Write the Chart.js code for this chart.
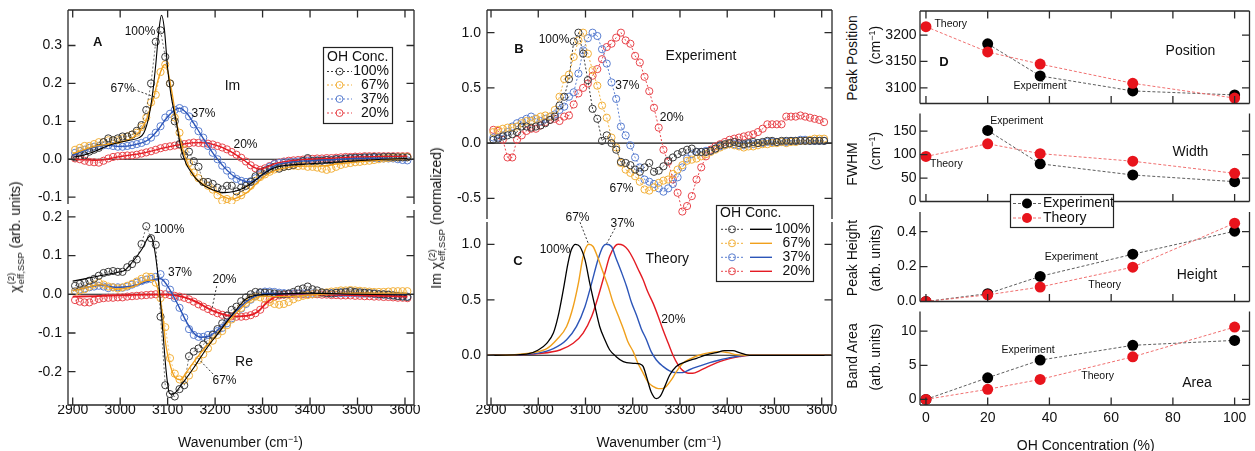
<!DOCTYPE html>
<html><head><meta charset="utf-8">
<script src="https://cdn.jsdelivr.net/npm/chart.js@4.4.1/dist/chart.umd.min.js"></script>
<style>
html,body{margin:0;padding:0;background:#fff;}
#wrap{position:relative;width:1255px;height:451px;overflow:hidden;font-family:"Liberation Sans",Arial,Helvetica,sans-serif;color:#111;}
#wrap canvas{position:absolute;}
.t{position:absolute;white-space:nowrap;font-size:14px;line-height:16px;transform:translate(-50%,-50%);}
.r{transform:translate(-50%,-50%) rotate(-90deg);}
sup{font-size:9px;vertical-align:5px;line-height:0;}
.ss{display:inline-flex;flex-direction:column;font-size:9.5px;line-height:10px;vertical-align:6px;margin-left:1px;}
</style></head>
<body><div id="wrap"></div>
<script>
// ================= DATA =================
const concLabels = ['100%','67%','37%','20%'];
const wavenumber = [
2905,2915,2925,2935,2945,2955,2965,2975,2985,2995,
3005,3015,3025,3035,3045,3055,3065,3075,3085,3095,
3105,3115,3125,3135,3145,3155,3165,3175,3185,3195,
3205,3215,3225,3235,3245,3255,3265,3275,3285,3295,
3305,3315,3325,3335,3345,3355,3365,3375,3385,3395,
3405,3415,3425,3435,3445,3455,3465,3475,3485,3495,
3505,3515,3525,3535,3545,3555,3565,3575,3585,3595,
3605];

// Panel A, Im part, measured points
const imData100 = [
0.005,0.008,0.01,0.02,0.025,0.03,0.045,0.055,0.05,0.055,
0.06,0.06,0.065,0.075,0.09,0.13,0.2,0.31,0.34,0.27,
0.2,0.1,0.04,0.01,0.02,-0.005,-0.02,-0.06,-0.06,-0.065,
-0.075,-0.08,-0.07,-0.07,-0.085,-0.075,-0.07,-0.06,-0.045,-0.035,
-0.03,-0.025,-0.02,-0.025,-0.02,-0.018,-0.015,-0.01,-0.005,0.003,
-0.005,-0.004,-0.004,-0.002,-0.003,0.0,0.0,0.002,0.003,0.004,
0.003,0.005,0.005,0.006,0.005,0.006,0.006,0.006,0.005,0.005,
0.005];
const imData67 = [
0.025,0.03,0.035,0.035,0.04,0.045,0.045,0.05,0.05,0.05,
0.055,0.06,0.065,0.07,0.085,0.11,0.15,0.17,0.23,0.25,
0.2,0.11,0.07,0.025,-0.01,-0.035,-0.05,-0.06,-0.07,-0.08,
-0.095,-0.11,-0.105,-0.11,-0.1,-0.095,-0.08,-0.07,-0.057,-0.047,
-0.04,-0.033,-0.027,-0.022,-0.02,-0.018,-0.017,-0.018,-0.017,-0.02,
-0.02,-0.022,-0.025,-0.028,-0.025,-0.02,-0.015,-0.012,-0.01,-0.008,
-0.007,-0.005,-0.004,-0.002,0.0,0.002,0.003,0.004,0.005,0.006,
0.006];
const imData37 = [
0.017,0.022,0.025,0.03,0.033,0.035,0.037,0.037,0.035,0.033,
0.033,0.035,0.037,0.04,0.043,0.048,0.057,0.07,0.087,0.11,
0.12,0.13,0.135,0.13,0.113,0.092,0.074,0.057,0.035,0.017,
0.0,-0.017,-0.03,-0.043,-0.052,-0.057,-0.06,-0.058,-0.05,-0.04,
-0.03,-0.02,-0.013,-0.01,-0.008,-0.008,-0.007,-0.006,-0.005,-0.004,
-0.004,-0.003,-0.003,-0.002,-0.002,0.0,0.0,0.001,0.002,0.002,
0.003,0.003,0.003,0.003,0.003,0.002,0.002,0.002,0.0,-0.002,
-0.003];
const imData20 = [
0.002,0.0,-0.004,-0.007,-0.008,-0.009,-0.004,0.002,0.006,0.008,
0.009,0.01,0.01,0.012,0.015,0.018,0.021,0.025,0.029,0.032,
0.034,0.036,0.038,0.04,0.042,0.044,0.043,0.042,0.041,0.039,
0.035,0.031,0.026,0.019,0.012,0.004,-0.006,-0.016,-0.024,-0.028,
-0.024,-0.018,-0.012,-0.009,-0.006,-0.004,-0.003,-0.002,-0.001,0.0,
0.001,0.002,0.002,0.003,0.003,0.004,0.005,0.006,0.006,0.007,
0.007,0.008,0.008,0.008,0.008,0.008,0.008,0.008,0.008,0.008,
0.008];
// Panel A, Im part, fitted curves
const imFitX100 = [2900,2920,2940,2960,2980,3000,3020,3040,3050,3060,3068,3075,3082,3087,3093,3100,3107,3118,3128,3139,3150,3160,3170,3180,3200,3220,3240,3260,3280,3300,3320,3340,3360,3400,3450,3500,3550,3605];
const imFit100 = [0.005,0.01,0.018,0.028,0.038,0.045,0.05,0.057,0.07,0.11,0.17,0.25,0.345,0.38,0.345,0.24,0.17,0.1,0.03,-0.012,-0.035,-0.052,-0.063,-0.072,-0.083,-0.088,-0.085,-0.076,-0.06,-0.04,-0.025,-0.018,-0.015,-0.012,-0.008,-0.004,0.0,0.002];
const imFitX67 = [2900,2950,3000,3030,3050,3060,3070,3080,3090,3095,3100,3110,3120,3130,3140,3150,3160,3180,3200,3220,3235,3250,3270,3290,3310,3340,3380,3420,3460,3500,3550,3605];
const imFit67 = [0.015,0.035,0.045,0.06,0.09,0.12,0.16,0.21,0.245,0.25,0.235,0.17,0.09,0.035,-0.005,-0.03,-0.05,-0.07,-0.085,-0.1,-0.105,-0.1,-0.085,-0.06,-0.04,-0.025,-0.018,-0.018,-0.012,-0.007,-0.002,0.002];
const imFitX37 = [2900,2940,2970,3000,3030,3060,3080,3100,3115,3125,3140,3160,3180,3200,3220,3240,3260,3275,3290,3310,3330,3360,3400,3450,3500,3550,3605];
const imFit37 = [0.01,0.03,0.037,0.034,0.038,0.052,0.078,0.112,0.13,0.135,0.122,0.085,0.045,0.008,-0.022,-0.045,-0.057,-0.06,-0.05,-0.03,-0.015,-0.008,-0.004,-0.001,0.002,0.003,0.002];
const imFitX20 = [2900,2950,3000,3050,3100,3150,3170,3200,3230,3260,3280,3295,3310,3330,3360,3400,3450,3500,3605];
const imFit20 = [0.0,-0.003,0.007,0.017,0.032,0.043,0.044,0.038,0.022,-0.002,-0.02,-0.026,-0.02,-0.01,-0.004,0.0,0.003,0.006,0.008];

// Panel A, Re part, measured points
const reData100 = [
0.022,0.027,0.03,0.035,0.04,0.048,0.055,0.058,0.06,0.058,
0.058,0.07,0.078,0.09,0.13,0.176,0.145,0.128,-0.058,-0.235,
-0.258,-0.264,-0.245,-0.235,-0.16,-0.148,-0.14,-0.13,-0.118,-0.105,
-0.09,-0.075,-0.055,-0.04,-0.032,-0.018,-0.008,0.0,0.006,0.005,
0.004,0.003,0.002,0.0,0.0,0.002,0.006,0.012,0.015,0.02,
0.013,0.01,0.005,0.003,0.002,0.004,0.005,0.006,0.008,0.006,
0.005,0.004,0.003,0.002,0.0,0.0,-0.001,-0.003,-0.005,-0.006,
-0.007];
const reData67 = [
0.007,0.01,0.013,0.02,0.025,0.03,0.025,0.02,0.018,0.015,
0.018,0.022,0.027,0.033,0.04,0.046,0.045,0.03,-0.01,-0.085,
-0.165,-0.205,-0.22,-0.222,-0.21,-0.19,-0.17,-0.155,-0.14,-0.12,
-0.105,-0.095,-0.08,-0.065,-0.05,-0.035,-0.022,-0.012,-0.006,-0.008,
-0.012,-0.02,-0.025,-0.027,-0.025,-0.02,-0.013,-0.008,-0.004,-0.002,
0.0,0.002,0.004,0.005,0.007,0.008,0.01,0.01,0.011,0.01,
0.009,0.008,0.007,0.006,0.006,0.006,0.007,0.008,0.008,0.008,
0.008];
const reData37 = [
0.008,0.012,0.015,0.018,0.02,0.022,0.02,0.016,0.018,0.018,
0.017,0.02,0.025,0.03,0.034,0.038,0.04,0.045,0.052,0.03,
0.012,-0.01,-0.035,-0.06,-0.09,-0.105,-0.11,-0.11,-0.105,-0.103,
-0.095,-0.087,-0.075,-0.062,-0.05,-0.037,-0.025,-0.014,-0.004,0.004,
0.007,0.007,0.006,0.004,0.003,0.002,0.002,0.002,0.002,0.002,
0.002,0.002,0.003,0.003,0.003,0.003,0.003,0.003,0.003,0.003,
0.002,0.002,0.002,0.001,0.0,-0.001,-0.002,-0.003,-0.004,-0.005,
-0.006];
const reData20 = [
-0.015,-0.019,-0.021,-0.021,-0.016,-0.012,-0.01,-0.009,-0.009,-0.008,
-0.008,-0.006,-0.005,-0.004,-0.003,-0.002,-0.001,0.0,0.001,0.0,
-0.002,-0.004,-0.006,-0.009,-0.013,-0.019,-0.026,-0.032,-0.038,-0.044,
-0.049,-0.053,-0.055,-0.057,-0.058,-0.058,-0.057,-0.054,-0.049,-0.04,
-0.027,-0.013,-0.006,-0.003,-0.001,0.0,0.0,0.001,0.0,0.0,
0.0,0.0,-0.001,-0.001,-0.002,-0.002,-0.003,-0.003,-0.003,-0.004,
-0.004,-0.005,-0.005,-0.006,-0.006,-0.007,-0.007,-0.008,-0.009,-0.009,
-0.01];
// Panel A, Re part, fitted curves
const reFitX100 = [2900,2950,3000,3010,3026,3047,3058,3064,3072,3081,3090,3097,3104,3111,3130,3155,3182,3210,3238,3265,3290,3320,3400,3500,3605];
const reFit100 = [0.034,0.046,0.058,0.062,0.084,0.119,0.145,0.151,0.119,0.033,-0.097,-0.2,-0.256,-0.258,-0.232,-0.19,-0.14,-0.095,-0.05,-0.012,-0.002,0.0,0.003,0.0,-0.002];
const reFitX67 = [2900,2930,2960,2991,3026,3058,3072,3082,3089,3096,3107,3117,3128,3138,3166,3201,3236,3270,3300,3330,3370,3420,3500,3605];
const reFit67 = [0.009,0.018,0.025,0.013,0.019,0.036,0.036,0.0,-0.05,-0.13,-0.19,-0.217,-0.221,-0.204,-0.157,-0.108,-0.06,-0.02,-0.005,-0.006,-0.005,0.0,0.003,0.003];
const reFitX37 = [2900,2930,2960,2990,3020,3050,3070,3085,3098,3110,3125,3140,3155,3170,3185,3200,3215,3230,3250,3270,3290,3310,3350,3450,3605];
const reFit37 = [0.009,0.018,0.024,0.018,0.02,0.03,0.038,0.04,0.025,0.0,-0.035,-0.072,-0.1,-0.111,-0.109,-0.098,-0.082,-0.062,-0.037,-0.016,-0.003,0.002,0.001,0.001,0.0];
const reFitX20 = [2900,2950,3000,3050,3100,3150,3200,3240,3270,3290,3310,3330,3360,3400,3500,3605];
const reFit20 = [-0.006,-0.005,-0.003,-0.001,-0.001,-0.014,-0.045,-0.057,-0.055,-0.045,-0.02,-0.005,0.0,0.0,-0.003,-0.006];

// Panel B, experiment (normalized Im)
const expB100 = [
0.03,0.04,0.06,0.07,0.08,0.1,0.15,0.15,0.14,0.15,
0.16,0.18,0.21,0.24,0.34,0.42,0.58,0.92,1.0,0.81,
0.57,0.31,0.22,0.02,0.07,0.0,-0.06,-0.17,-0.18,-0.2,
-0.24,-0.26,-0.22,-0.18,-0.26,-0.25,-0.21,-0.16,-0.13,-0.1,
-0.08,-0.06,-0.05,-0.08,-0.08,-0.08,-0.07,-0.05,-0.02,-0.01,
0.0,0.01,0.0,-0.01,0.0,0.01,0.0,0.01,0.02,0.02,
0.01,0.02,0.02,0.02,0.02,0.02,0.02,0.02,0.02,0.02,
0.02];
const expB67 = [
0.1,0.12,0.13,0.14,0.14,0.15,0.18,0.2,0.2,0.22,
0.24,0.25,0.24,0.3,0.42,0.58,0.62,0.78,0.93,1.0,
0.81,0.66,0.52,0.34,0.23,0.05,-0.04,-0.18,-0.24,-0.27,
-0.3,-0.35,-0.42,-0.43,-0.4,-0.36,-0.34,-0.33,-0.28,-0.24,
-0.2,-0.16,-0.15,-0.14,-0.12,-0.1,-0.08,-0.06,-0.04,-0.02,
-0.01,-0.02,-0.03,-0.04,-0.03,-0.03,-0.02,-0.01,-0.01,0.0,
0.0,0.01,0.0,0.01,0.01,0.02,0.02,0.03,0.04,0.04,
0.04];
const expB37 = [
0.05,0.05,0.07,0.1,0.15,0.18,0.2,0.22,0.24,0.22,
0.2,0.22,0.24,0.26,0.3,0.33,0.42,0.46,0.63,0.84,
0.95,1.0,0.97,0.85,0.72,0.55,0.4,0.15,0.07,-0.02,
-0.13,-0.22,-0.33,-0.35,-0.37,-0.41,-0.44,-0.41,-0.37,-0.31,
-0.22,-0.14,-0.1,-0.08,-0.08,-0.07,-0.07,-0.05,-0.03,-0.02,
-0.01,-0.01,-0.02,-0.02,-0.01,-0.01,0.0,0.0,0.01,0.01,
0.01,0.01,0.01,0.02,0.02,0.03,0.03,0.02,0.02,0.02,
0.02];
const expB20 = [
0.12,0.11,0.03,-0.13,-0.13,0.03,0.07,0.11,0.13,0.13,
0.16,0.19,0.21,0.22,0.2,0.24,0.25,0.35,0.45,0.5,
0.54,0.61,0.67,0.76,0.87,0.9,0.955,1.0,0.93,0.9,
0.79,0.73,0.6,0.47,0.32,0.14,-0.06,-0.17,-0.33,-0.45,
-0.62,-0.57,-0.48,-0.33,-0.22,-0.12,-0.06,-0.03,-0.01,0.01,
0.03,0.04,0.05,0.06,0.07,0.08,0.1,0.13,0.17,0.17,
0.17,0.17,0.24,0.24,0.24,0.25,0.24,0.23,0.22,0.21,
0.19];

// Panel C, theory (normalized Im)
const thX100 = [2890,2950,2980,3000,3018,3032,3042,3053,3063,3070,3079,3088,3099,3109,3120,3130,3141,3151,3165,3180,3201,3215,3222,3229,3239,3250,3258,3268,3278,3292,3313,3335,3356,3377,3394,3412,3426,3447,3470,3620];
const th100 = [0,0.003,0.015,0.048,0.108,0.2,0.35,0.59,0.83,0.95,1.0,0.98,0.86,0.65,0.44,0.26,0.14,0.05,-0.012,-0.057,-0.072,-0.078,-0.1,-0.19,-0.33,-0.39,-0.37,-0.28,-0.18,-0.1,-0.057,-0.027,0.003,0.024,0.042,0.042,0.024,0,0,0];
const thX67 = [2890,2950,2990,3018,3039,3060,3074,3085,3095,3107,3116,3127,3137,3148,3158,3169,3180,3190,3201,3211,3222,3232,3243,3254,3263,3271,3282,3292,3306,3324,3342,3363,3384,3401,3419,3440,3470,3620];
const th67 = [0,0.005,0.025,0.06,0.14,0.26,0.44,0.65,0.89,1.0,0.98,0.87,0.75,0.62,0.48,0.36,0.24,0.12,0.033,-0.072,-0.16,-0.24,-0.28,-0.3,-0.3,-0.28,-0.22,-0.15,-0.072,-0.027,0.003,0.024,0.033,0.024,0.006,0,0,0];
const thX37 = [2890,2950,3000,3032,3060,3081,3099,3113,3127,3137,3144,3155,3165,3176,3187,3197,3208,3218,3229,3239,3250,3264,3278,3292,3306,3320,3342,3363,3384,3405,3426,3447,3470,3620];
const th37 = [0,0.004,0.02,0.06,0.14,0.26,0.44,0.65,0.87,0.98,1.0,0.98,0.87,0.75,0.62,0.48,0.36,0.24,0.14,0.033,-0.042,-0.1,-0.14,-0.156,-0.156,-0.13,-0.096,-0.066,-0.042,-0.021,-0.006,0,0,0];
const thX20 = [2890,2950,3000,3046,3074,3095,3113,3127,3141,3151,3162,3169,3180,3190,3201,3211,3222,3232,3243,3254,3264,3275,3285,3296,3306,3317,3327,3342,3363,3384,3405,3426,3447,3470,3620];
const th20 = [0,0.003,0.015,0.048,0.108,0.2,0.35,0.53,0.74,0.89,0.98,1.0,0.99,0.95,0.87,0.78,0.68,0.57,0.47,0.35,0.23,0.11,0.003,-0.087,-0.138,-0.162,-0.162,-0.138,-0.096,-0.057,-0.03,-0.012,0,0,0];

// Panel D, fitted band parameters vs OH concentration
const concTheory = [0,20,37,67,100];
const concExpPW = [20,37,67,100];
const concExpHA = [0,20,37,67,100];
const peakPosExp = [3183.5,3122.5,3094,3086.5];
const peakPosTheory = [3216,3168,3145,3108.5,3080.5];
const fwhmExp = [151.4,80.3,56.5,42.3];
const fwhmTheory = [96,123,102,85.8,60];
const heightExp = [0,0.045,0.144,0.271,0.403];
const heightTheory = [0,0.038,0.083,0.197,0.449];
const areaExp = [0,3.17,5.76,7.93,8.65];
const areaTheory = [0,1.48,2.93,6.24,10.6];

// Tick labels
const wnTicks = [2900,3000,3100,3200,3300,3400,3500,3600];
const concTicks = [0,20,40,60,80,100];
const imTicks = [-0.1,0,0.1,0.2,0.3];
const reTicks = [-0.2,-0.1,0,0.1,0.2];
const expTicks = [-0.5,0,0.5,1.0];
const theoryTicks = [0,0.5,1.0];
const posTicks = [3100,3150,3200];
const fwhmTicks = [0,50,100,150];
const heightTicks = [0,0.2,0.4];
const areaTicks = [0,5,10];

// ================= STYLE =================
const FONT = '"Liberation Sans", Arial, Helvetica, sans-serif';
Chart.defaults.font.family = FONT;
Chart.defaults.color = '#111';
const dataCol = ['#3a3a3a','#f2b03a','#5a7ed0','#e8464c'];
const fitCol = ['#000000','#f0a01c','#2c55b8','#e41b23'];

const decorCfg = {};
function txt(ctx, t, x, y, size, bold, align, color) {
  ctx.font = (bold ? 'bold ' : '') + size + 'px ' + FONT;
  ctx.fillStyle = color || '#111';
  ctx.textAlign = align || 'center';
  ctx.textBaseline = 'middle';
  ctx.fillText(t, x, y);
}
function seg(ctx, x1, y1, x2, y2, color, w, dash) {
  ctx.save(); ctx.strokeStyle = color; ctx.lineWidth = w; ctx.setLineDash(dash || []);
  ctx.beginPath(); ctx.moveTo(x1, y1); ctx.lineTo(x2, y2); ctx.stroke(); ctx.restore();
}
function ring(ctx, x, y, r, color) {
  ctx.save(); ctx.strokeStyle = color; ctx.lineWidth = 1;
  ctx.beginPath(); ctx.arc(x, y, r, 0, Math.PI * 2); ctx.stroke(); ctx.restore();
}
function dot(ctx, x, y, r, color) {
  ctx.save(); ctx.fillStyle = color; ctx.beginPath(); ctx.arc(x, y, r, 0, Math.PI * 2); ctx.fill(); ctx.restore();
}
function boxRect(ctx, x, y, w, h) {
  ctx.save(); ctx.fillStyle = '#fff'; ctx.fillRect(x, y, w, h);
  ctx.strokeStyle = '#222'; ctx.lineWidth = 1.2; ctx.strokeRect(x, y, w, h); ctx.restore();
}

const decorPlugin = {
  id: 'decor',
  beforeDatasetsDraw(chart) {
    const c = decorCfg[chart.canvas.id]; if (!c) return;
    const a = chart.chartArea, y = chart.scales.y;
    if (c.zero) seg(chart.ctx, a.left, y.getPixelForValue(0), a.right, y.getPixelForValue(0), '#111', 1.1);
  },
  afterDraw(chart) {
    const c = decorCfg[chart.canvas.id]; if (!c) return;
    const ctx = chart.ctx, a = chart.chartArea, x = chart.scales.x, y = chart.scales.y;
    ctx.save();
    ctx.strokeStyle = '#2a2a2a'; ctx.lineWidth = 1.3;
    ctx.beginPath();
    ctx.moveTo(a.left, a.top); ctx.lineTo(a.left, a.bottom);
    ctx.moveTo(a.right, a.top); ctx.lineTo(a.right, a.bottom);
    if (c.top) { ctx.moveTo(a.left, a.top); ctx.lineTo(a.right, a.top); }
    if (c.bottom) { ctx.moveTo(a.left, a.bottom); ctx.lineTo(a.right, a.bottom); }
    const TL = 7.5;
    c.yTicks.forEach(v => {
      const py = y.getPixelForValue(v);
      ctx.moveTo(a.left, py); ctx.lineTo(a.left + TL, py);
      ctx.moveTo(a.right, py); ctx.lineTo(a.right - TL, py);
    });
    c.xTicks.forEach(v => {
      const px = x.getPixelForValue(v);
      if (c.top) { ctx.moveTo(px, a.top); ctx.lineTo(px, a.top + TL); }
      if (c.bottom) { ctx.moveTo(px, a.bottom); ctx.lineTo(px, a.bottom - TL); }
    });
    ctx.stroke();
    ctx.restore();
    (c.leaders || []).forEach(l => seg(ctx, x.getPixelForValue(l[0]), y.getPixelForValue(l[1]), x.getPixelForValue(l[2]), y.getPixelForValue(l[3]), '#222', 0.9, [2, 2]));
    (c.texts || []).forEach(t => txt(ctx, t[0], x.getPixelForValue(t[1]), y.getPixelForValue(t[2]), t[3], t[4]));
    if (c.legend) { ctx.save(); ctx.translate(-c.ox, -c.oy); c.legend(ctx); ctx.restore(); }
  }
};
Chart.register(decorPlugin);

function mkScales(s, yw, bp) {
  return {
    x: {
      type: 'linear', min: s.xmin, max: s.xmax, display: !!s.xShow, position: 'bottom',
      grid: { display: false, drawTicks: false }, border: { display: false },
      ticks: { padding: s.xPad || 0, maxRotation: 0, autoSkip: false, color: '#111',
        font: { size: 14, lineHeight: s.xLH || 1.2 }, callback: (v) => String(v) },
      afterBuildTicks: (sc) => { sc.ticks = s.xTicks.map(v => ({ value: v })); },
      afterFit: (sc) => { if (s.xShow) sc.height = bp; sc.paddingLeft = 0; sc.paddingRight = 0; sc.paddingTop = 0; sc.paddingBottom = 0; }
    },
    y: {
      type: 'linear', min: s.ymin, max: s.ymax, position: 'left',
      grid: { display: false, drawTicks: false }, border: { display: false },
      ticks: { padding: s.yPad, color: '#111', font: { size: 14 }, callback: (v) => s.fmt(v) },
      afterBuildTicks: (sc) => { sc.ticks = s.yTicks.map(v => ({ value: v })); },
      afterFit: (sc) => { sc.width = yw; sc.paddingLeft = 0; sc.paddingRight = 0; sc.paddingTop = 0; sc.paddingBottom = 0; }
    }
  };
}

function makeChart(id, box, lay, s, datasets, decor) {
  const [L, T, R, B] = box;
  const cv = document.createElement('canvas');
  cv.id = id;
  const w = R - L + lay.yw + lay.rp, h = B - T + lay.tp + lay.bp;
  cv.width = w; cv.height = h;
  cv.style.left = (L - lay.yw) + 'px'; cv.style.top = (T - lay.tp) + 'px';
  cv.style.width = w + 'px'; cv.style.height = h + 'px';
  document.getElementById('wrap').appendChild(cv);
  decor.ox = L - lay.yw; decor.oy = T - lay.tp;
  decor.xTicks = s.xTicks; decor.yTicks = s.yTicks;
  decorCfg[id] = decor;
  return new Chart(cv, {
    type: 'line',
    data: { datasets },
    options: {
      responsive: false, animation: false, devicePixelRatio: 1, events: [],
      layout: { padding: { left: 0, top: lay.tp, right: lay.rp, bottom: s.xShow ? 0 : lay.bp } },
      plugins: { legend: { display: false }, tooltip: { enabled: false } },
      scales: mkScales(s, lay.yw, lay.bp)
    }
  });
}

const pts = (xs, ys) => xs.map((x, i) => ({ x, y: ys[i] }));
function dataSet(xs, ys, color, order, dashW) {
  return { data: pts(xs, ys), borderColor: color, borderWidth: dashW, borderDash: [2, 2],
    pointRadius: 3.6, pointBorderWidth: 1, pointBorderColor: color, pointBackgroundColor: 'rgba(0,0,0,0)',
    fill: false, tension: 0, order };
}
function curveSet(xs, ys, color, order, w) {
  return { data: pts(xs, ys), borderColor: color, borderWidth: w, pointRadius: 0,
    fill: false, cubicInterpolationMode: 'monotone', order };
}
function dotSet(xs, ys, lineColor, dotColor, order) {
  return { data: pts(xs, ys), borderColor: lineColor, borderWidth: 1, borderDash: [3, 2],
    pointRadius: 5.5, pointBorderWidth: 0, pointBackgroundColor: dotColor, pointBorderColor: dotColor,
    fill: false, tension: 0, order };
}
const f1 = v => v.toFixed(1), f0 = v => String(Math.round(v));

// ================= PANEL A =================
const wnA = { xmin: 2890.1, xmax: 3619, xTicks: wnTicks };
makeChart('aIm', [68, 10, 414, 205], { yw: 48, tp: 10, rp: 8, bp: 4 },
  Object.assign({}, wnA, { xShow: false, ymin: -0.1181, ymax: 0.3937, yTicks: imTicks, yPad: 6, fmt: f1 }),
  [
    curveSet(imFitX100, imFit100, fitCol[0], 0, 1.1),
    curveSet(imFitX67, imFit67, fitCol[1], 1, 1.3),
    curveSet(imFitX37, imFit37, fitCol[2], 2, 1.3),
    curveSet(imFitX20, imFit20, fitCol[3], 3, 1.3),
    dataSet(wavenumber, imData100, dataCol[0], 4, 0.7),
    dataSet(wavenumber, imData67, dataCol[1], 5, 0.7),
    dataSet(wavenumber, imData37, dataCol[2], 6, 0.7),
    dataSet(wavenumber, imData20, dataCol[3], 7, 0.7)
  ],
  { top: true, bottom: false, zero: true,
    texts: [['A', 2952.7, 0.307, 13, true], [concLabels[0], 3041.8, 0.336, 12], [concLabels[1], 3005, 0.186, 12],
            [concLabels[2], 3175.5, 0.121, 12], [concLabels[3], 3264, 0.0375, 12], ['Im', 3236.6, 0.192, 14]],
    leaders: [[3029, 0.184, 3075.5, 0.163]],
    legend: (ctx) => {
      boxRect(ctx, 323.5, 47.5, 69, 76);
      txt(ctx, 'OH Conc.', 327, 57.5, 14, false, 'left');
      const ys = [71.5, 85, 99, 113];
      concLabels.forEach((lab, i) => {
        seg(ctx, 327, ys[i], 352, ys[i], dataCol[i], 1, [2, 2]);
        ring(ctx, 339.5, ys[i], 3.5, dataCol[i]);
        txt(ctx, lab, 389, ys[i], 14, false, 'right');
      });
    } });

makeChart('aRe', [68, 210, 414, 405], { yw: 48, tp: 8, rp: 8, bp: 22 },
  Object.assign({}, wnA, { xShow: true, xPad: 0, xLH: 0.8, ymin: -0.2861, ymax: 0.2178, yTicks: reTicks, yPad: 6, fmt: f1 }),
  [
    curveSet(reFitX100, reFit100, fitCol[0], 0, 1.1),
    curveSet(reFitX67, reFit67, fitCol[1], 1, 1.3),
    curveSet(reFitX37, reFit37, fitCol[2], 2, 1.4),
    curveSet(reFitX20, reFit20, fitCol[3], 3, 1.8),
    dataSet(wavenumber, reData100, dataCol[0], 4, 0.7),
    dataSet(wavenumber, reData67, dataCol[1], 5, 0.7),
    dataSet(wavenumber, reData37, dataCol[2], 6, 0.7),
    dataSet(wavenumber, reData20, dataCol[3], 7, 0.7)
  ],
  { top: false, bottom: true, zero: true,
    texts: [[concLabels[0], 3102.9, 0.166, 12], [concLabels[2], 3126, 0.056, 12], [concLabels[3], 3219.8, 0.037, 12],
            ['Re', 3260.9, -0.175, 14], [concLabels[1], 3219.8, -0.224, 12]],
    leaders: [[3203.3, 0.021, 3192.8, -0.041], [3195.6, -0.206, 3161.2, -0.162]] });

// ================= PANELS B & C =================
const wnB = { xmin: 2891.5, xmax: 3621.8, xTicks: wnTicks };
makeChart('bExp', [487, 10, 832, 222], { yw: 45, tp: 10, rp: 8, bp: 2 },
  Object.assign({}, wnB, { xShow: false, ymin: -0.6875, ymax: 1.2054, yTicks: expTicks, yPad: 6, fmt: f1 }),
  [
    dataSet(wavenumber, expB100, dataCol[0], 0, 1),
    dataSet(wavenumber, expB67, dataCol[1], 1, 1),
    dataSet(wavenumber, expB37, dataCol[2], 2, 1),
    dataSet(wavenumber, expB20, dataCol[3], 3, 1)
  ],
  { top: true, bottom: false, zero: true,
    texts: [['B', 2959.3, 0.851, 13, true], [concLabels[0], 3033.4, 0.9375, 12], ['Experiment', 3344.5, 0.792, 14],
            [concLabels[2], 3188.5, 0.518, 12], [concLabels[3], 3282.5, 0.232, 12], [concLabels[1], 3176.2, -0.41, 12]] });

makeChart('cTh', [487, 222, 832, 405], { yw: 45, tp: 30, rp: 8, bp: 22 },
  Object.assign({}, wnB, { xShow: true, xPad: 0, xLH: 0.8, ymin: -0.4477, ymax: 1.2009, yTicks: theoryTicks, yPad: 6, fmt: f1 }),
  [
    curveSet(thX100, th100, fitCol[0], 0, 1.3),
    curveSet(thX67, th67, fitCol[1], 1, 1.4),
    curveSet(thX37, th37, fitCol[2], 2, 1.4),
    curveSet(thX20, th20, fitCol[3], 3, 1.4)
  ],
  { top: false, bottom: true, zero: true,
    texts: [['C', 2957.2, 0.843, 13, true], [concLabels[0], 3035.5, 0.949, 12], [concLabels[1], 3083.1, 1.243, 12],
            [concLabels[2], 3178.4, 1.186, 12], ['Theory', 3273.2, 0.865, 14], [concLabels[3], 3285.9, 0.318, 12]],
    leaders: [[3088.4, 1.199, 3106, 1.007], [3162.5, 1.145, 3144.9, 1.007]],
    legend: (ctx) => {
      boxRect(ctx, 716.5, 205.5, 97, 76);
      txt(ctx, 'OH Conc.', 720, 213.5, 14, false, 'left');
      const ys = [229.3, 243.3, 257.3, 271.3];
      concLabels.forEach((lab, i) => {
        seg(ctx, 721, ys[i], 743, ys[i], dataCol[i], 1, [2, 2]);
        ring(ctx, 732, ys[i], 3.5, dataCol[i]);
        seg(ctx, 750, ys[i], 772, ys[i], fitCol[i], 1.4);
        txt(ctx, lab, 810.5, ys[i], 14, false, 'right');
      });
    } });

// ================= PANEL D =================
const concX = { xmin: -1.93, xmax: 104.82, xTicks: concTicks };
const dExpLine = 'rgba(40,40,40,0.75)', dThLine = '#f07070', dExpDot = '#000', dThDot = '#e8141c';
makeChart('d1', [920, 11, 1252, 107], { yw: 46, tp: 11, rp: 3, bp: 2 },
  Object.assign({}, concX, { xShow: false, ymin: 3070.2, ymax: 3245.7, yTicks: posTicks, yPad: 3.5, fmt: f0 }),
  [dotSet(concTheory, peakPosTheory, dThLine, dThDot, 0), dotSet(concExpPW, peakPosExp, dExpLine, dExpDot, 1)],
  { top: true, bottom: true,
    texts: [['D', 5.79, 3148.7, 13, true], ['Theory', 8.04, 3220.1, 10.5], ['Experiment', 36.98, 3102.4, 10.5], ['Position', 85.7, 3169.4, 14]] });

makeChart('d2', [920, 112, 1252, 204], { yw: 46, tp: 4, rp: 3, bp: 3 },
  Object.assign({}, concX, { xShow: false, ymin: 0, ymax: 187.5, yTicks: fwhmTicks, yPad: 3.5, fmt: f0 }),
  [dotSet(concTheory, fwhmTheory, dThLine, dThDot, 0), dotSet(concExpPW, fwhmExp, dExpLine, dExpDot, 1)],
  { top: false, bottom: true,
    texts: [['Experiment', 29.4, 170.3, 10.5], ['Theory', 6.6, 78.9, 10.5], ['Width', 85.7, 105.3, 14]] });

makeChart('d3', [920, 212, 1252, 304], { yw: 46, tp: 20, rp: 3, bp: 3 },
  Object.assign({}, concX, { xShow: false, ymin: 0, ymax: 0.513, yTicks: heightTicks, yPad: 3.5, fmt: f1 }),
  [dotSet(concTheory, heightTheory, dThLine, dThDot, 0), dotSet(concExpHA, heightExp, dExpLine, dExpDot, 1)],
  { top: false, bottom: true,
    texts: [['Experiment', 47.1, 0.257, 10.5], ['Theory', 57.9, 0.094, 10.5], ['Height', 87.8, 0.15, 14]],
    legend: (ctx) => {
      boxRect(ctx, 1010.5, 194.5, 103, 33);
      seg(ctx, 1013, 203.5, 1041, 203.5, dExpLine, 1, [3, 2]); dot(ctx, 1027, 203.5, 5, dExpDot);
      txt(ctx, 'Experiment', 1043, 203.5, 14, false, 'left');
      seg(ctx, 1013, 218, 1041, 218, dThLine, 1, [3, 2]); dot(ctx, 1027, 218, 5, dThDot);
      txt(ctx, 'Theory', 1043, 218, 14, false, 'left');
    } });

makeChart('d4', [920, 310, 1252, 405], { yw: 46, tp: 4, rp: 3, bp: 25 },
  Object.assign({}, concX, { xShow: true, xPad: 4.6, xLH: 1.2, ymin: -0.8225, ymax: 12.886, yTicks: areaTicks, yPad: 3.5, fmt: f0 }),
  [dotSet(concTheory, areaTheory, dThLine, dThDot, 0), dotSet(concExpHA, areaExp, dExpLine, dExpDot, 1)],
  { top: false, bottom: true,
    texts: [['Experiment', 33.1, 7.29, 10.5], ['Theory', 55.6, 3.46, 10.5], ['Area', 87.8, 2.39, 14]] });

// ================= AXIS TITLES (HTML text) =================
const chi = 'χ<span class="ss"><span>(2)</span><span>eff,SSP</span></span>';
const titles = [
  ['r', 16, 237, chi + ' (arb. units)'],
  ['', 240.5, 441.5, 'Wavenumber (cm<sup>−1</sup>)'],
  ['r', 437, 218, 'Im ' + chi + ' (normalized)'],
  ['', 659, 441.5, 'Wavenumber (cm<sup>−1</sup>)'],
  ['', 1085.7, 444.5, 'OH Concentration (%)'],
  ['r', 851.5, 58, 'Peak Position'], ['r', 874.5, 45, '(cm<sup>−1</sup>)'],
  ['r', 851.5, 164, 'FWHM'], ['r', 874.5, 151, '(cm<sup>−1</sup>)'],
  ['r', 851.5, 257.5, 'Peak Height'], ['r', 874.5, 257.5, '(arb. units)'],
  ['r', 851.5, 356, 'Band Area'], ['r', 874.5, 356.5, '(arb. units)']
];
const wrap = document.getElementById('wrap');
titles.forEach(([cls, x, y, html]) => {
  const d = document.createElement('div');
  d.className = 't ' + cls;
  d.style.left = x + 'px'; d.style.top = y + 'px';
  d.innerHTML = html;
  wrap.appendChild(d);
});
</script></body></html>
